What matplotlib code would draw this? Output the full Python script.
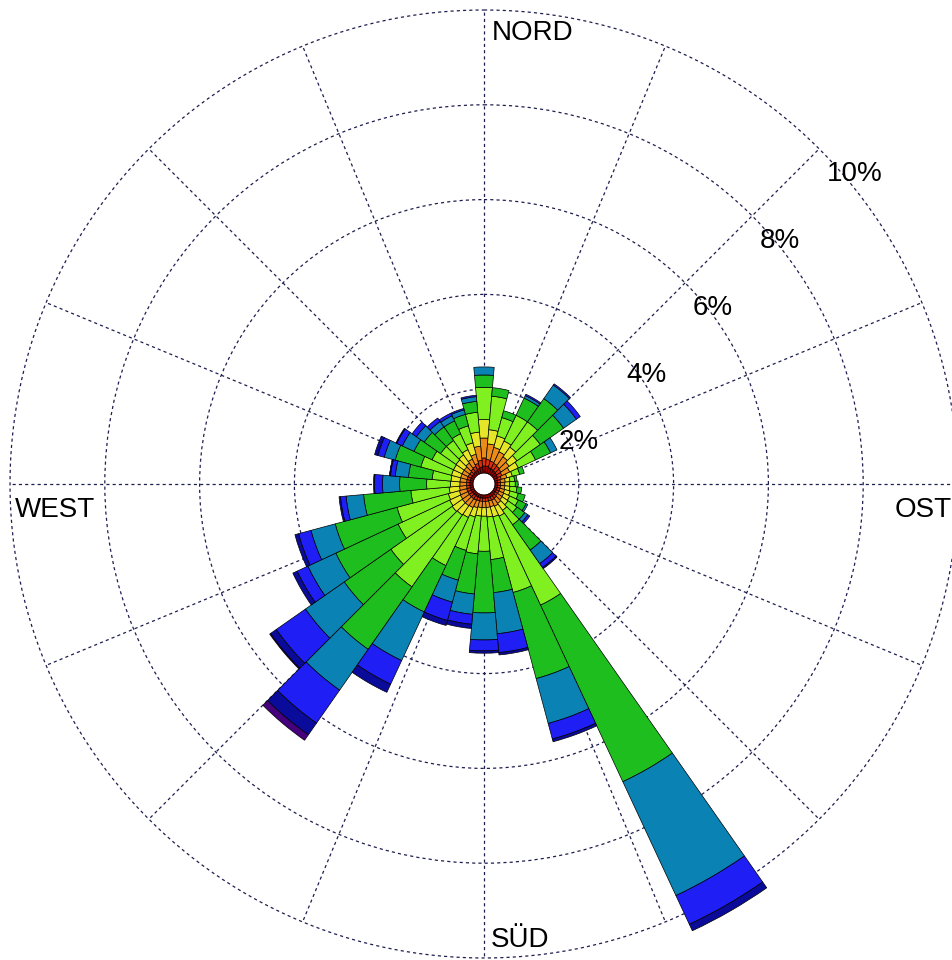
import numpy as np
import matplotlib
matplotlib.use('Agg')
import matplotlib.pyplot as plt

# Wind rose: share of time (%) per 10 degree sector and wind speed class
# sectors start at north and run clockwise
directions = np.arange(0, 360, 10)

# radius of the empty centre, in %
hole = 0.23

speed_0 = [0.15, 0.15, 0.13, 0.12, 0.11, 0.10, 0.09, 0.07, 0.06, 0.06, 0.06, 0.06,
           0.06, 0.06, 0.07, 0.07, 0.07, 0.07, 0.07, 0.07, 0.07, 0.07, 0.07, 0.07,
           0.07, 0.07, 0.07, 0.07, 0.07, 0.07, 0.07, 0.07, 0.08, 0.09, 0.11, 0.13]
speed_1 = [0.17, 0.14, 0.14, 0.13, 0.12, 0.11, 0.10, 0.08, 0.06, 0.06, 0.06, 0.06,
           0.06, 0.06, 0.07, 0.08, 0.07, 0.07, 0.07, 0.07, 0.07, 0.08, 0.08, 0.08,
           0.08, 0.08, 0.07, 0.07, 0.07, 0.07, 0.07, 0.07, 0.08, 0.09, 0.11, 0.14]
speed_2 = [0.42, 0.33, 0.30, 0.27, 0.24, 0.21, 0.18, 0.12, 0.10, 0.09, 0.09, 0.10,
           0.11, 0.12, 0.13, 0.14, 0.13, 0.13, 0.13, 0.13, 0.15, 0.17, 0.18, 0.18,
           0.17, 0.16, 0.15, 0.14, 0.14, 0.14, 0.14, 0.14, 0.15, 0.17, 0.20, 0.30]
speed_3 = [0.39, 0.30, 0.25, 0.25, 0.25, 0.20, 0.20, 0.12, 0.10, 0.10, 0.11, 0.12,
           0.14, 0.15, 0.18, 0.23, 0.22, 0.20, 0.18, 0.18, 0.20, 0.23, 0.24, 0.26,
           0.25, 0.24, 0.22, 0.20, 0.19, 0.20, 0.20, 0.21, 0.21, 0.22, 0.25, 0.30]
speed_4 = [0.68, 0.71, 0.40, 0.60, 0.65, 0.60, 0.40, 0.16, 0.10, 0.12, 0.15, 0.18,
           0.20, 0.23, 0.37, 2.07, 1.65, 0.90, 0.74, 0.80, 0.73, 1.12, 1.85, 1.58,
           1.20, 1.12, 0.81, 0.50, 0.40, 0.67, 0.50, 0.40, 0.37, 0.37, 0.37, 0.42]
speed_5 = [0.26, 0.18, 0.15, 0.40, 0.60, 0.60, 0.35, 0.10, 0.05, 0.06, 0.10, 0.15,
           0.18, 0.20, 0.65, 4.11, 1.88, 0.70, 1.30, 0.85, 0.65, 1.08, 1.61, 1.20,
           1.45, 1.35, 1.00, 0.57, 0.50, 0.56, 0.42, 0.42, 0.35, 0.30, 0.25, 0.23]
speed_6 = [0.17, 0.00, 0.00, 0.06, 0.35, 0.33, 0.15, 0.00, 0.00, 0.00, 0.00, 0.00,
           0.04, 0.08, 0.35, 2.65, 0.98, 0.87, 0.57, 0.43, 0.48, 1.13, 1.05, 1.00,
           0.65, 0.53, 0.37, 0.36, 0.28, 0.24, 0.27, 0.20, 0.14, 0.12, 0.10, 0.10]
speed_7 = [0.00, 0.00, 0.00, 0.03, 0.03, 0.10, 0.00, 0.00, 0.00, 0.00, 0.00, 0.00,
           0.00, 0.05, 0.10, 0.67, 0.34, 0.40, 0.23, 0.21, 0.40, 0.55, 0.85, 0.75,
           0.25, 0.27, 0.12, 0.17, 0.10, 0.14, 0.13, 0.11, 0.09, 0.06, 0.03, 0.03]
speed_8 = [0.00, 0.00, 0.00, 0.00, 0.00, 0.00, 0.00, 0.00, 0.00, 0.00, 0.00, 0.00,
           0.00, 0.00, 0.03, 0.15, 0.06, 0.05, 0.05, 0.09, 0.11, 0.19, 0.30, 0.15,
           0.10, 0.08, 0.03, 0.02, 0.02, 0.07, 0.02, 0.00, 0.00, 0.00, 0.00, 0.00]
speed_9 = [0.00, 0.00, 0.00, 0.00, 0.00, 0.00, 0.00, 0.00, 0.00, 0.00, 0.00, 0.00,
           0.00, 0.00, 0.00, 0.00, 0.00, 0.00, 0.00, 0.00, 0.00, 0.00, 0.14, 0.02,
           0.00, 0.00, 0.00, 0.00, 0.00, 0.00, 0.00, 0.00, 0.00, 0.00, 0.00, 0.00]

speed_classes = [speed_0, speed_1, speed_2, speed_3, speed_4,
                 speed_5, speed_6, speed_7, speed_8, speed_9]
class_colors = ['#A00000', '#DC2D0A', '#EB8C19', '#E6E628', '#80F020',
                '#1EBE1E', '#0A82B4', '#1E1EF5', '#0A0A9B', '#46007D']

ring_values = [2, 4, 6, 8, 10]
ring_labels = ['2%', '4%', '6%', '8%', '10%']
compass_labels = ['NORD', 'OST', 'SÜD', 'WEST']

W, H, dpi = 953, 960, 100
cx, cy, R = 484, 484, 474   # centre and 10% radius in pixels (cy from top)

fig = plt.figure(figsize=(W / dpi, H / dpi), dpi=dpi)
ax = fig.add_axes([(cx - R) / W, (H - cy - R) / H, 2 * R / W, 2 * R / H],
                  projection='polar')
ax.set_theta_zero_location('N')
ax.set_theta_direction(-1)
ax.set_ylim(0, 10)
ax.spines['polar'].set_visible(False)

grid_style = dict(color='#1e1e50', linestyle=(0, (2.5, 2.5)), linewidth=0.9)
ax.set_rgrids(ring_values[:-1], labels=[''] * (len(ring_values) - 1))
ax.set_thetagrids(np.arange(0, 360, 22.5), labels=[''] * 16)
ax.set_axisbelow(True)
ax.grid(True, **grid_style)
# outer ring sits on the axes edge, draw it unclipped
circle = np.linspace(0, 2 * np.pi, 721)
ax.plot(circle, np.full_like(circle, ring_values[-1]), clip_on=False, zorder=0.6,
        **grid_style)

theta = np.deg2rad(directions)
width = np.deg2rad(10)

# white centre
ax.bar(0, hole, width=2 * np.pi, bottom=0, color='white', linewidth=0, zorder=1.5)

bottom = np.full(len(directions), hole)
for values, color in zip(speed_classes, class_colors):
    values = np.array(values)
    mask = values > 0
    ax.bar(theta[mask], values[mask], width=width, bottom=bottom[mask],
           color=color, edgecolor='black', linewidth=0.5, clip_on=False, zorder=2)
    bottom = bottom + values

font = dict(family=['Liberation Sans', 'DejaVu Sans'], fontsize=20, color='black')
px = 72 / dpi

# compass labels (offsets in pixels from the 10% ring)
compass_pos = [(0, (8, -30), 'left'), (np.pi / 2, (-6, -33), 'right'),
               (np.pi, (7, 11), 'left'), (3 * np.pi / 2, (5, -33), 'left')]
for label, (ang, (ox, oy), ha) in zip(compass_labels, compass_pos):
    ax.annotate(label, xy=(ang, 10), xytext=(ox * px, oy * px),
                textcoords='offset points', ha=ha, va='baseline', **font)

# ring labels along the 45 degree line
for r, label in zip(ring_values, ring_labels):
    ax.annotate(label, xy=(np.pi / 4, r), xytext=(8 * px, -32 * px),
                textcoords='offset points', ha='left', va='baseline', **font)

fig.savefig('out.png', dpi=dpi)
